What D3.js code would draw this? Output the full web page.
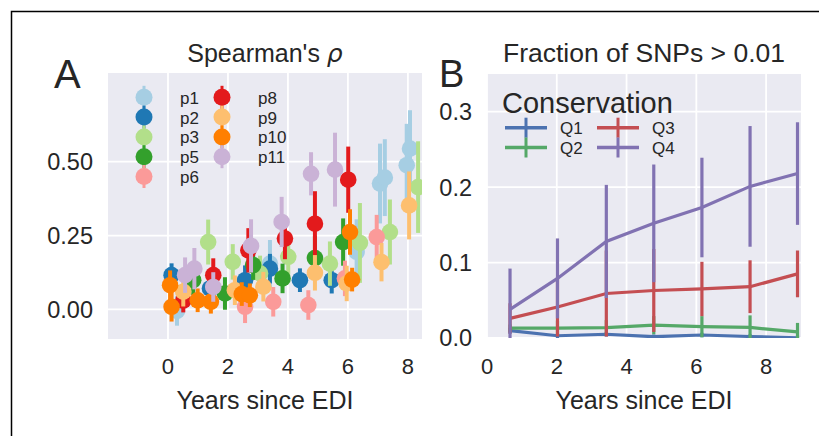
<!DOCTYPE html>
<html>
<head>
<meta charset="utf-8">
<script src="https://cdn.jsdelivr.net/npm/d3@7"></script>
<style>
  body { margin: 0; background: #fff; }
  svg text { font-family: "Liberation Sans", Arial, sans-serif; fill: #262626; }
</style>
</head>
<body>
<svg id="fig" width="819" height="436"></svg>
<script>

// panel A: Spearman's rho per patient, rows are [years, rho, err]
var patients = ["p1", "p2", "p3", "p5", "p6", "p8", "p9", "p10", "p11"];
var patientColors = ["#a6cee3", "#1f78b4", "#b2df8a", "#33a02c", "#fb9a99",
                     "#e31a1c", "#fdbf6f", "#ff7f00", "#cab2d6"];

var p1  = [[0.3, -0.005, 0.05], [1.46, 0.07, 0.05], [3.4, 0.155, 0.08], [6.29, 0.195, 0.11],
           [7.07, 0.426, 0.135], [7.23, 0.446, 0.13], [7.96, 0.488, 0.14], [8.07, 0.544, 0.13]];
var p2  = [[0.12, 0.116, 0.04], [1.4, 0.071, 0.04], [2.57, 0.099, 0.05], [3.4, 0.138, 0.05],
           [4.4, 0.099, 0.04], [5.46, 0.099, 0.045]];
var p3  = [[1.34, 0.228, 0.076], [2.16, 0.161, 0.06], [3.07, 0.122, 0.06], [4.01, 0.178, 0.06],
           [5.4, 0.155, 0.075], [6.4, 0.225, 0.135], [7.4, 0.262, 0.11], [8.34, 0.414, 0.155]];
var p5  = [[0.84, 0.099, 0.05], [1.9, 0.054, 0.055], [2.84, 0.15, 0.05], [3.82, 0.105, 0.05],
           [4.9, 0.174, 0.075], [5.84, 0.228, 0.08]];
var p6  = [[2.57, 0.009, 0.055], [3.51, 0.026, 0.05], [4.68, 0.015, 0.05], [5.9, 0.105, 0.06],
           [6.96, 0.245, 0.075]];
var p8  = [[0.51, 0.03, 0.04], [1.51, 0.116, 0.057], [2.68, 0.2, 0.075], [3.9, 0.24, 0.07],
           [4.9, 0.29, 0.11], [6.01, 0.439, 0.112]];
var p9  = [[0.51, 0.06, 0.05], [2.23, 0.065, 0.05], [3.18, 0.077, 0.05], [4.9, 0.124, 0.06],
           [5.96, 0.088, 0.06], [7.12, 0.16, 0.065], [8.04, 0.352, 0.115]];
var p10 = [[0.07, 0.082, 0.05], [0.12, 0.009, 0.05], [0.99, 0.031, 0.04], [1.43, 0.026, 0.04],
           [2.46, 0.052, 0.04], [2.73, 0.048, 0.04], [6.07, 0.262, 0.077], [6.14, 0.101, 0.04]];
var p11 = [[0.57, 0.116, 0.06], [0.88, 0.138, 0.07], [1.51, 0.076, 0.05], [2.77, 0.215, 0.09],
           [3.79, 0.296, 0.085], [4.77, 0.459, 0.073], [5.57, 0.473, 0.125]];
var rhoData = [p1, p2, p3, p5, p6, p8, p9, p10, p11];

var xTicksA = [0, 2, 4, 6, 8];
var yTicksA = [0, 0.25, 0.5];

// panel B: fraction of SNPs > 0.01 by conservation quartile
var yearsB = [0.66, 2.02, 3.42, 4.78, 6.16, 7.54, 8.9];
var quartiles = ["Q1", "Q2", "Q3", "Q4"];
var quartileColors = ["#4c72b0", "#55a868", "#c44e52", "#8172b2"];
var q1 = [0.0097, 0.003, 0.005, 0.0017, 0.004, 0.002, 0.0003];
var q2 = [0.013, 0.013, 0.0137, 0.017, 0.015, 0.014, 0.008];
var q3 = [0.026, 0.041, 0.059, 0.063, 0.065, 0.068, 0.085];
var q4 = [0.038, 0.079, 0.128, 0.152, 0.173, 0.201, 0.218];
var q1Err = [0.004, 0.003, 0.003, 0.003, 0.003, 0.003, 0.003];
var q2Err = [0.005, 0.01, 0.01, 0.012, 0.014, 0.016, 0.012];
var q3Err = [0.02, 0.039, 0.057, 0.055, 0.036, 0.035, 0.031];
var q4Err = [0.054, 0.053, 0.075, 0.078, 0.066, 0.08, 0.068];
var fracData = [q1, q2, q3, q4];
var fracErr = [q1Err, q2Err, q3Err, q4Err];

var xTicksB = [0, 2, 4, 6, 8];
var yTicksB = [0, 0.1, 0.2, 0.3];


var svg = d3.select("#fig");
svg.append("rect").attr("width", 819).attr("height", 436).attr("fill", "#fff");

// frame round the figure (only top and left show)
svg.append("path")
  .attr("d", "M11.5,436 V11.5 H819")
  .attr("fill", "none").attr("stroke", "#000").attr("stroke-width", 1.5);

function draw_axes(x, y, xticks, yticks, yfmt, title, titleSize, clipId){
  var x0 = x.range()[0], x1 = x.range()[1];
  var y0 = y.range()[0], y1 = y.range()[1];
  var g = svg.append("g");

  g.append("rect")
    .attr("x", x0).attr("y", y1)
    .attr("width", x1 - x0).attr("height", y0 - y1)
    .attr("fill", "#eaeaf2");

  g.selectAll(".vgrid").data(xticks).enter().append("line")
    .attr("x1", function(d){ return x(d); }).attr("x2", function(d){ return x(d); })
    .attr("y1", y1).attr("y2", y0)
    .attr("stroke", "#fff").attr("stroke-width", 1.8);

  g.selectAll(".hgrid").data(yticks).enter().append("line")
    .attr("x1", x0).attr("x2", x1)
    .attr("y1", function(d){ return y(d); }).attr("y2", function(d){ return y(d); })
    .attr("stroke", "#fff").attr("stroke-width", 1.8);

  g.selectAll(".xlab").data(xticks).enter().append("text")
    .attr("x", function(d){ return x(d); })
    .attr("y", 374)
    .attr("text-anchor", "middle")
    .style("font-size", "22px")
    .text(function(d){ return d; });

  g.selectAll(".ylab").data(yticks).enter().append("text")
    .attr("x", x0 - 15)
    .attr("y", function(d){ return y(d); })
    .attr("dy", "0.36em")
    .attr("text-anchor", "end")
    .style("font-size", "23.5px")
    .text(function(d){ return yfmt(d); });

  g.append("text")
    .attr("x", (x0 + x1) / 2).attr("y", 408.5)
    .attr("text-anchor", "middle")
    .style("font-size", "25px")
    .text("Years since EDI");

  var t = g.append("text")
    .attr("x", (x0 + x1) / 2).attr("y", 61.5)
    .attr("text-anchor", "middle")
    .style("font-size", titleSize + "px");
  t.append("tspan").text(title[0]);
  if(title[1])
    t.append("tspan").style("font-family", "DejaVu Sans").style("font-style", "italic").text(title[1]);

  svg.append("clipPath").attr("id", clipId).append("rect")
    .attr("x", x0).attr("y", y1)
    .attr("width", x1 - x0).attr("height", y0 - y1);

  return svg.append("g").attr("clip-path", "url(#" + clipId + ")");
}


// ---- panel A
var xA = d3.scaleLinear().domain([-2, 8.47]).range([108, 422]);
var yA = d3.scaleLinear().domain([-0.1, 0.8]).range([339, 73]);
var plotA = draw_axes(xA, yA, xTicksA, yTicksA, d3.format(".2f"), ["Spearman's ", "\u03c1"], 25, "clipA");

rhoData.forEach(function(rows, i){
  var color = patientColors[i];
  var s = plotA.append("g");
  s.selectAll("line").data(rows).enter().append("line")
    .attr("x1", function(d){ return xA(d[0]); }).attr("x2", function(d){ return xA(d[0]); })
    .attr("y1", function(d){ return yA(d[1] - d[2]); }).attr("y2", function(d){ return yA(d[1] + d[2]); })
    .attr("stroke", color).attr("stroke-width", 4);
  s.selectAll("circle").data(rows).enter().append("circle")
    .attr("cx", function(d){ return xA(d[0]); })
    .attr("cy", function(d){ return yA(d[1]); })
    .attr("r", 8.3)
    .attr("fill", color);
});

var legA = svg.append("g");
patients.forEach(function(name, i){
  var col = i < 5 ? 0 : 1, row = i % 5;
  var mx = 144 + col * 78, my = 97.3 + row * 19.8;
  legA.append("line")
    .attr("x1", mx).attr("x2", mx).attr("y1", my - 11.5).attr("y2", my + 11.5)
    .attr("stroke", patientColors[i]).attr("stroke-width", 3);
  legA.append("circle").attr("cx", mx).attr("cy", my).attr("r", 8.5).attr("fill", patientColors[i]);
  legA.append("text")
    .attr("x", mx + 36).attr("y", my + 6.5)
    .style("font-size", "17px")
    .text(name);
});

svg.append("text").attr("x", 54).attr("y", 88).style("font-size", "40px").text("A");


// ---- panel B
var xB = d3.scaleLinear().domain([0, 9]).range([487, 801]);
var yB = d3.scaleLinear().domain([0, 0.35]).range([338, 74]);
var plotB = draw_axes(xB, yB, xTicksB, yTicksB, d3.format(".1f"), ["Fraction of SNPs > 0.01"], 26.5, "clipB");

var lineB = d3.line()
  .x(function(d){ return xB(d[0]); })
  .y(function(d){ return yB(d[1]); });

fracData.forEach(function(vals, i){
  var color = quartileColors[i];
  var rows = yearsB.map(function(yr, j){ return [yr, vals[j], fracErr[i][j]]; });
  var s = plotB.append("g");
  s.selectAll("line").data(rows).enter().append("line")
    .attr("x1", function(d){ return xB(d[0]); }).attr("x2", function(d){ return xB(d[0]); })
    .attr("y1", function(d){ return yB(d[1] - d[2]); }).attr("y2", function(d){ return yB(d[1] + d[2]); })
    .attr("stroke", color).attr("stroke-width", 3.2);
  s.append("path")
    .attr("d", lineB(rows))
    .attr("fill", "none").attr("stroke", color).attr("stroke-width", 3.2);
});

var legB = svg.append("g");
legB.append("text").attr("x", 502).attr("y", 112.5).style("font-size", "29px").text("Conservation");
quartiles.forEach(function(name, i){
  var col = i < 2 ? 0 : 1, row = i % 2;
  var lx = 505 + col * 92, ly = 127.7 + row * 19.8;
  legB.append("line")
    .attr("x1", lx).attr("x2", lx + 42).attr("y1", ly).attr("y2", ly)
    .attr("stroke", quartileColors[i]).attr("stroke-width", 3.5);
  legB.append("line")
    .attr("x1", lx + 21).attr("x2", lx + 21).attr("y1", ly - 10).attr("y2", ly + 10)
    .attr("stroke", quartileColors[i]).attr("stroke-width", 3);
  legB.append("text")
    .attr("x", lx + 55).attr("y", ly + 6)
    .style("font-size", "17px")
    .text(name);
});

svg.append("text").attr("x", 439).attr("y", 87).style("font-size", "38px").text("B");

</script>
</body>
</html>
